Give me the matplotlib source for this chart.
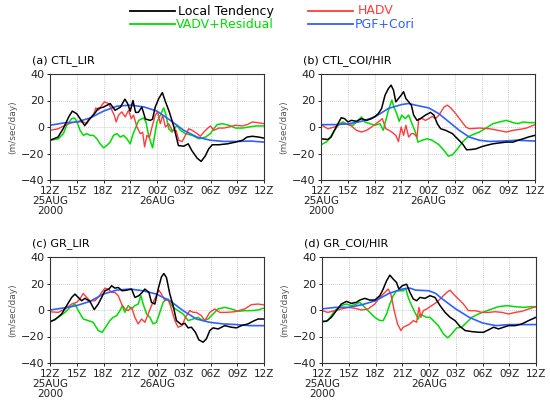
import matplotlib
matplotlib.use("Agg")
import matplotlib.pyplot as plt
import numpy as np

# hours since 12Z 25AUG, values in m/sec/day
# (a) CTL_LIR
ta_lt = [0,0.9,1.5,2.1,2.5,3.0,3.4,3.9,4.3,5.1,5.4,6.0,6.75,7.3,7.9,8.4,8.7,9.0,9.3,9.6,9.9,10.3,10.7,11.25,11.5,11.8,12.2,12.6,12.9,13.4,13.9,14.4,15.0,15.5,15.9,16.5,16.95,17.4,17.8,18.2,18.9,19.9,20.8,21.6,22.1,22.7,23.4,24.0]
va_lt = [-10,-7.6,-1,7.6,12,10,6,1,5,11,14,15,17.7,12.6,15,21,17.7,12,20,11,11,15,6,5,6,15,21.5,26,20,11,0,-14,-14.5,-12.7,-17.7,-23.5,-26,-22,-16.5,-13.4,-13.4,-12.7,-11.4,-10,-7.6,-7,-7.6,-8.4]
ta_ha = [0,0.94,1.69,2.44,3.19,3.75,4.12,4.5,4.87,5.14,5.44,5.81,6.11,6.56,6.94,7.2,7.42,7.69,8.06,8.44,8.81,9.11,9.37,9.75,10.12,10.39,10.61,10.87,11.14,11.44,11.81,12.07,12.37,12.64,12.94,13.31,13.69,14.14,14.44,14.81,15.19,15.56,15.94,16.5,16.87,17.25,17.62,18.0,18.37,18.94,19.5,20.06,20.81,21.56,22.12,22.69,23.25,24.0]
va_ha = [-2.5,-1.3,1.3,3.3,3.8,3.8,2.5,6.3,9,14.4,12.7,16.5,19,17.7,12.7,9,3.8,9,11.4,7.6,12.7,6.3,9,0,-5,-4,-15,-6.3,-8,0,9,11.4,2.5,9,0,2.5,-2.5,-2.5,-10,-11,-6.3,-1.3,-2.5,-5,-7,-3.8,-1.3,0.8,-2.5,-0.8,-0.8,0,1.3,0.8,1.8,3.8,3.3,2.5]
ta_vr = [0,0.94,1.5,1.87,2.44,2.74,3.0,3.37,3.75,4.12,4.5,4.87,5.25,5.62,6.0,6.37,6.75,7.12,7.5,7.87,8.25,8.62,9.0,9.26,9.56,9.94,10.5,10.76,11.06,11.36,11.51,11.74,12.0,12.37,12.75,13.01,13.31,13.69,14.25,14.62,15.19,15.94,16.69,17.44,18.0,18.37,18.75,19.31,20.06,20.81,21.56,22.31,23.06,24.0]
va_vr = [-10,-8.9,-5,1.3,6.3,6.8,4.3,-2.5,-6.3,-5,-6.3,-6.3,-8.9,-12.7,-15.7,-13.9,-11.4,-6.3,-5,-7.6,-6.3,-8.9,-12.7,-6.3,-1.3,5,6.8,3.8,-6.3,-12.7,-15.7,-6.3,3.8,9,14.4,9,-1.3,-3.8,1.3,-2.5,-5,-6.3,-8.9,-7.6,-5,-1.3,1.8,2.5,1.3,-0.8,-0.8,0,0.8,0.8]
ta_pc = [0,1.5,3.0,4.5,6.0,7.5,9.0,10.5,12.0,13.5,15.0,16.5,18.0,19.5,21.0,22.5,24.0]
va_pc = [1.3,3,3.8,6.8,12,15.7,16.5,15.2,12,5,-2.5,-7.6,-10,-10.9,-10.9,-10.6,-11.4]

# (b) CTL_COI/HIR
tb_lt = [0,0.76,1.13,1.7,2.27,2.65,3.02,3.4,3.97,4.54,5.1,5.67,6.05,6.42,6.8,7.18,7.56,7.86,8.13,8.39,8.69,8.99,9.26,9.52,9.83,10.13,10.39,10.77,11.15,11.72,12.28,12.66,13.04,13.42,13.98,14.74,15.31,15.87,16.33,16.82,17.38,17.95,18.52,19.27,20.03,20.79,21.54,22.11,22.68,23.24,24.0]
vb_lt = [-8.9,-9.4,-7.6,0,7,6.3,3.8,5,4.3,6.3,5,6.3,8,10,14,24,29,31.6,27.8,19,21.5,24,26.6,21.5,19,16.5,9,5,6.3,9,11,9,2.5,-1.3,-2.5,-5,-8.9,-12.7,-17.2,-17,-16.5,-15,-13.9,-12.7,-12,-11.4,-11.4,-10,-8.9,-7.6,-6.3]
tb_ha = [0,0.76,1.51,2.27,2.83,3.4,3.97,4.54,5.1,5.67,6.42,6.88,7.26,7.63,7.94,8.39,8.69,8.99,9.26,9.52,9.83,10.13,10.39,10.77,10.96,11.34,11.72,12.09,12.47,12.85,13.23,13.79,14.17,14.55,15.12,15.68,16.25,16.63,17.76,18.9,19.84,20.79,21.54,22.3,23.05,24.0]
vb_ha = [1.8,-1.3,0,2.5,2.5,0.8,-2.5,-3.8,-2.5,0,3.8,6.3,-1.3,-2.5,-3.8,-6.3,-11,0,-6.3,1.3,-7.6,-5,-5,-7.6,6.3,6.3,5,6.3,8,6.3,9,15,16.5,14.4,10,5,0,-1.3,-0.8,-1.3,-2.5,-3.8,-2.5,-1.8,-0.8,1.8]
tb_vr = [0,0.57,0.94,1.51,2.08,2.46,3.02,3.59,4.16,4.54,4.91,5.48,6.05,6.61,6.99,7.26,7.63,7.94,8.24,8.5,8.77,9.07,9.45,9.83,10.2,10.58,10.88,11.34,11.9,12.47,13.23,13.79,14.29,14.74,15.31,15.87,16.44,17.01,17.76,18.52,19.27,20.03,20.79,21.54,22.11,22.68,23.24,24.0]
vb_vr = [-13.4,-11.4,-8.9,-2.5,2.5,3.8,1.8,1.3,5,7.6,3.8,2.5,1.3,2.5,-2.5,5,14,20.3,14,10,4.3,9,6.3,9,2.5,-3.8,-11.4,-10,-8.9,-10,-13.4,-17.7,-22,-21,-16.5,-11.4,-7.6,-5.8,-3.8,-0.8,2.5,3.8,5,3.3,2.5,3.8,3.3,3.3]
tb_pc = [0,1.51,3.02,4.54,6.05,7.56,9.07,9.83,10.58,12.09,13.23,14.36,15.5,16.63,17.76,18.9,20.41,21.92,24.0]
vb_pc = [1.8,1.8,2.3,4.3,7.6,14,17,17.7,16.5,14.4,10,3.8,-2.5,-7.6,-10,-10.9,-10.6,-10,-10.6]

# (c) GR_LIR
tc_lt = [0,0.56,1.31,1.87,2.43,2.8,3.17,3.55,3.92,4.48,4.96,5.41,5.79,6.16,6.61,6.91,7.28,7.65,8.1,8.59,9.15,9.52,9.97,10.34,10.64,11.09,11.38,11.76,12.13,12.5,12.77,13.06,13.44,13.81,14.18,14.74,15.12,15.49,15.86,16.31,16.69,17.17,17.54,17.92,18.29,18.85,19.6,20.35,20.91,21.46,22.21,22.77,23.33,24.0]
vc_lt = [-8.75,-7.3,-3,3.3,9.5,12,9.5,7,8.8,6.5,0.3,4.5,9.5,14.5,15.8,18.3,16.5,17,14.5,15,15.8,9.5,10.8,13.3,15.8,13.3,5.8,4.5,15.8,25,27.5,24.5,12,3.3,-8,-11,-10,-13.5,-13,-16.8,-22.5,-24.3,-21.8,-15.5,-13.5,-14.3,-11.8,-13,-13.5,-11.8,-10.5,-8.5,-6.8,-6.8]
tc_ha = [0,0.93,1.68,2.43,2.99,3.36,3.73,4.11,4.48,5.04,5.41,5.79,6.16,6.53,6.91,7.28,7.65,8.03,8.4,8.77,9.15,9.52,9.89,10.27,10.64,11.01,11.38,11.83,12.21,12.5,12.88,13.25,13.62,14.0,14.37,14.82,15.19,15.68,16.05,16.42,16.98,17.36,17.92,18.48,19.04,19.78,20.72,21.84,22.58,23.33,24.0]
vc_ha = [-1.3,-1.8,0.8,4.5,5.8,8.3,12.5,9.5,7,7,9.5,13.3,16.5,15.8,13.3,13.3,10.8,4.5,0.8,-0.5,2,-5.5,-10.5,-6.8,-9.3,-3,3.3,9.5,15,12,7,8.3,0.8,-8,-13,-11.8,-5.5,-0.5,-1.8,-1.8,-4.3,-8,-1.8,0.8,-1.8,-1.8,-1.3,0.8,4,4.5,3.8]
tc_vr = [0,0.93,1.68,2.24,2.8,3.17,3.73,4.29,4.85,5.41,5.86,6.35,6.72,7.09,7.47,7.84,8.1,8.4,8.77,9.15,9.52,9.89,10.19,10.45,10.83,11.2,11.57,11.94,12.32,12.69,13.06,13.44,13.81,14.37,14.93,15.49,16.05,16.61,17.17,17.73,18.29,18.85,19.6,20.34,21.09,21.84,22.58,23.33,24.0]
vc_vr = [-9.3,-5.5,-1.8,2,4.5,-0.5,-6.8,-8,-9.3,-15.5,-16.8,-11.8,-8,-5.5,-4.3,-0.5,3.3,-1.8,3.3,0.8,3.3,4.5,10.8,4.5,-3,-5.5,-10.5,-9.3,-1.8,5.8,8.3,5.8,2,-0.5,-3,-8,-6.8,-5.5,-8,-6.8,-3,0.8,2,0.8,-1,-0.5,-0.5,0,1.5]
tc_pc = [0,1.49,2.99,4.48,5.97,7.47,8.96,10.45,11.94,13.44,14.93,16.42,17.92,19.41,20.9,22.4,24.0]
vc_pc = [0,1.5,3.3,6.5,12,15,15.8,14.5,12,7,-0.5,-6.8,-9.3,-10.5,-11,-11.8,-11.8]

# (d) GR_COI/HIR
td_lt = [0,0.49,1.05,1.61,2.17,2.74,3.3,3.86,4.24,4.8,5.36,5.92,6.49,6.86,7.24,7.61,7.99,8.36,8.62,9.0,9.49,9.86,10.24,10.61,10.99,11.55,12.11,12.67,13.24,13.8,14.36,14.92,15.49,16.05,16.8,17.55,18.11,18.67,19.24,19.8,20.36,20.92,21.67,22.42,23.17,24.0]
vd_lt = [-8.5,-8.5,-5.5,-0.5,4.5,6.5,5,5.8,7.5,8.8,7.5,7.5,10.8,15.8,22,26.3,23.3,20.8,15.8,18.3,19.5,13.3,8.3,7,9.5,8.8,10.8,9.5,3.3,-1.8,-5.5,-8,-12.5,-15.5,-16.3,-16.8,-16.8,-15,-13,-14.3,-13,-11.8,-11.8,-10.5,-8,-5.5]
td_ha = [0,0.67,1.42,2.17,2.92,3.67,4.42,5.17,5.92,6.49,7.05,7.42,7.72,8.1,8.47,8.85,9.11,9.49,9.86,10.24,10.61,10.87,11.1,11.36,11.74,12.3,12.86,13.42,13.99,14.36,14.74,15.3,15.86,16.42,17.17,17.92,18.67,19.42,20.17,20.92,21.67,22.42,23.17,24.0]
vd_ha = [-0.5,-1.8,-0.5,0.8,2,1.3,0,0.8,4.5,9.5,13.3,15.8,12,-0.5,-10.5,-15.5,-13,-11.8,-10.5,-8,-9.3,2,-5.5,-0.5,0.8,3.3,5.8,9.5,13.3,15,12,8.3,4.5,-0.5,-0.5,-1.8,-1.8,-1.3,-1.8,-3,-1.8,-1,0.8,2.5]
td_vr = [0,0.67,1.42,2.17,2.74,3.3,3.86,4.24,4.8,5.36,5.92,6.49,6.86,7.24,7.61,7.99,8.36,8.74,9.11,9.37,9.67,10.05,10.42,10.8,10.99,11.36,11.74,12.11,12.49,13.05,13.61,14.1,14.55,15.11,15.67,16.24,16.8,17.55,18.3,19.05,19.8,20.73,21.67,22.61,23.36,24.0]
vd_vr = [-9.3,-8,-0.5,3.3,4.5,3.3,4.5,5.8,2,-1.8,-5.5,-8,-8,-3,4.5,10.8,14.5,14.5,14.5,16.5,9.5,3.3,-1.8,-6.8,-3,-4.3,-5.5,-5.5,-8,-11.8,-18,-21,-18,-13.5,-13,-9.3,-5.5,-3,-1,0.8,2.5,3.3,2.5,2,2.5,2.5]
td_pc = [0,1.5,3.0,4.5,6.0,7.5,9.0,9.86,10.5,12.0,12.75,13.5,15.0,16.5,18.0,19.5,21.0,22.5,24.0]
vd_pc = [0.8,2,2,4,7,12.5,15.8,16.5,15,14.5,12.5,8.3,0.8,-5.5,-9.8,-11.8,-11,-11,-11]

titles = ["(a) CTL_LIR", "(b) CTL_COI/HIR", "(c) GR_LIR", "(d) GR_COI/HIR"]
xticks = [0, 3, 6, 9, 12, 15, 18, 21, 24]
xticklabels = ["12Z\n25AUG\n2000", "15Z", "18Z", "21Z", "00Z\n26AUG", "03Z", "06Z", "09Z", "12Z"]
labels = ["Local Tendency", "HADV", "VADV+Residual", "PGF+Cori"]
colors = {"lt": "black", "ha": "#ff3b3b", "vr": "#00dd00", "pc": "#3060ff"}

panels = [
    (ta_lt, va_lt, ta_ha, va_ha, ta_vr, va_vr, ta_pc, va_pc),
    (tb_lt, vb_lt, tb_ha, vb_ha, tb_vr, vb_vr, tb_pc, vb_pc),
    (tc_lt, vc_lt, tc_ha, vc_ha, tc_vr, vc_vr, tc_pc, vc_pc),
    (td_lt, vd_lt, td_ha, vd_ha, td_vr, vd_vr, td_pc, vd_pc),
]

fig = plt.figure(figsize=(5.5, 4.05), dpi=100)
W, H = 550, 405
boxes = [(50, 74), (321, 74), (50, 257), (322, 257)]
aw, ah = 214, 106

for i, (x0, y0) in enumerate(boxes):
    ax = fig.add_axes([x0 / W, 1 - (y0 + ah) / H, aw / W, ah / H])
    d = panels[i]
    ax.plot(d[4], d[5], color=colors["vr"], lw=1.1)
    ax.plot(d[2], d[3], color=colors["ha"], lw=1.0)
    ax.plot(d[6], d[7], color=colors["pc"], lw=1.2)
    ax.plot(d[0], d[1], color=colors["lt"], lw=1.1)
    ax.set_xlim(0, 24)
    ax.set_ylim(-40, 40)
    ax.set_xticks(xticks)
    ax.set_xticklabels(xticklabels, fontsize=7.5, linespacing=1.05, va="top")
    ax.set_yticks([-40, -20, 0, 20, 40])
    ax.set_yticklabels(["\u221240", "\u221220", "0", "20", "40"], fontsize=8)
    ax.tick_params(length=2.5, width=0.7, pad=1.5, colors="#222222")
    ax.grid(color="#bbbbbb", linestyle=(0, (1, 1.5)), linewidth=0.6)
    for s in ax.spines.values():
        s.set_linewidth(0.8)
        s.set_color("#333333")
    ax.text(-0.085, 1.13, titles[i], transform=ax.transAxes, fontsize=8,
            ha="left", va="center")
    ax.set_ylabel("(m/sec/day)", fontsize=6.5, color="#555555", labelpad=3)

# legend on top
fig.lines.append(plt.Line2D([130 / W, 175 / W], [1 - 11 / H, 1 - 11 / H], color="black", lw=1.3, transform=fig.transFigure))
fig.lines.append(plt.Line2D([130 / W, 175 / W], [1 - 24 / H, 1 - 24 / H], color=colors["vr"], lw=1.3, transform=fig.transFigure))
fig.lines.append(plt.Line2D([308 / W, 353 / W], [1 - 11 / H, 1 - 11 / H], color=colors["ha"], lw=1.3, transform=fig.transFigure))
fig.lines.append(plt.Line2D([308 / W, 353 / W], [1 - 24 / H, 1 - 24 / H], color=colors["pc"], lw=1.3, transform=fig.transFigure))
fig.text(178 / W, 1 - 11 / H, labels[0], fontsize=9, color="black", va="center")
fig.text(176 / W, 1 - 24 / H, labels[2], fontsize=9, color=colors["vr"], va="center")
fig.text(358 / W, 1 - 11 / H, labels[1], fontsize=9, color=colors["ha"], va="center")
fig.text(355 / W, 1 - 24 / H, labels[3], fontsize=9, color=colors["pc"], va="center")

fig.savefig("out.png", dpi=100)
